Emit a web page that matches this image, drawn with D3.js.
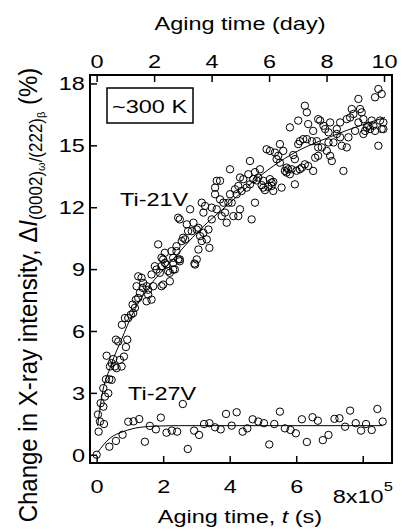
<!DOCTYPE html>
<html>
<head>
<meta charset="utf-8">
<script src="https://cdn.jsdelivr.net/npm/d3@7"></script>
<style>
  body { margin: 0; background: #fff; }
  svg text { font-family: "Liberation Sans", Arial, sans-serif; fill: #000; }
</style>
</head>
<body>
<svg id="chart" width="402" height="531"></svg>
<script>
// Ti-21V measured points, time in 1e5 s, change in %
const ti21vTime = [
  0.04, 0.06, 0.10, 0.22, 0.12, 0.20, 0.25, 0.35, 0.20, 0.28, 0.38, 0.45, 0.30, 0.40, 0.45, 0.55,
  0.50, 0.60, 0.58, 0.65, 0.70, 0.75, 0.82, 0.88, 0.92, 0.76, 0.85, 0.95, 1.03, 1.10, 1.15, 1.08,
  1.18, 1.25, 1.30, 1.20, 1.25, 1.35, 1.40, 1.50, 1.38, 1.55, 1.65, 1.50, 1.55, 1.70, 1.65, 1.80,
  1.75, 1.90, 1.95, 2.05, 2.20, 2.20, 2.35, 2.30, 2.50, 2.94, 2.00, 1.95, 2.00, 2.05, 1.95, 2.10,
  2.15, 2.30, 2.30, 2.45, 2.40, 2.25, 1.85, 2.50, 2.40, 2.56, 2.60, 2.66, 2.75, 2.71, 2.50, 2.45,
  2.81, 2.91, 2.86, 3.01, 3.06, 3.11, 3.21, 3.16, 3.06, 3.01, 2.96, 3.36, 3.39, 3.31, 3.21, 3.16,
  3.26, 3.46, 3.46, 3.61, 3.56, 3.61, 3.71, 3.56, 3.71, 3.76, 3.91, 3.81, 3.96, 4.06, 4.11, 4.26,
  4.01, 4.16, 4.26, 4.21, 4.31, 4.41, 4.36, 4.51, 4.56, 4.71, 4.61, 4.76, 4.66, 4.86, 4.01, 3.86,
  4.31, 4.61, 4.76, 4.91, 4.81, 5.01, 5.01, 5.21, 5.26, 5.31, 5.26, 5.56, 5.11, 5.21, 5.36, 5.41,
  5.46, 5.51, 5.61, 5.51, 5.71, 5.76, 5.66, 5.81, 5.86, 5.96, 5.71, 5.96, 6.11, 6.17, 6.26, 6.36,
  6.51, 6.57, 6.47, 6.06, 6.11, 6.21, 6.32, 5.81, 6.06, 6.26, 6.32, 6.36, 6.51, 6.66, 6.72, 6.62,
  6.66, 6.66, 6.77, 6.82, 6.87, 6.97, 6.97, 7.02, 6.92, 7.02, 7.07, 7.12, 7.22, 7.32, 7.22, 7.37,
  7.32, 7.42, 7.52, 7.57, 7.52, 7.62, 7.67, 7.72, 7.77, 7.87, 7.92, 7.97, 7.87, 8.02, 8.07, 8.02,
  8.17, 8.27, 8.32, 8.37, 8.47, 8.52, 8.57, 8.62, 8.62, 8.37, 8.47, 8.57, 8.12, 8.22, 5.06, 4.96,
  5.16, 5.91, 6.01, 5.31
];
const ti21vValue = [
  1.95, 1.12, 1.61, 1.49, 2.50, 2.33, 2.82, 2.98, 3.23, 3.66, 3.66, 3.63, 4.80, 4.28, 4.44, 4.28,
  4.64, 4.20, 5.58, 5.49, 4.60, 4.28, 4.76, 5.22, 5.58, 6.30, 6.63, 6.63, 6.79, 6.87, 7.12, 7.28,
  7.52, 7.60, 7.85, 8.17, 8.65, 8.58, 8.33, 8.17, 8.09, 7.76, 7.52, 7.44, 8.00, 8.17, 8.74, 8.98,
  9.14, 8.82, 9.14, 9.30, 8.82, 8.41, 8.98, 9.30, 9.38, 9.27, 8.25, 8.17, 9.47, 9.79, 9.55, 9.22,
  8.90, 8.98, 9.55, 9.47, 9.87, 9.87, 10.20, 9.47, 10.11, 10.36, 10.52, 10.44, 10.84, 11.17, 11.41, 11.49,
  11.90, 11.25, 10.84, 10.92, 11.00, 10.60, 10.76, 10.36, 9.95, 9.47, 9.22, 10.92, 10.03, 10.44, 11.74, 12.22,
  12.06, 11.98, 11.41, 11.90, 12.63, 13.28, 13.28, 12.95, 12.38, 11.57, 11.25, 12.22, 12.22, 12.22, 11.57, 11.57,
  12.63, 12.87, 13.03, 12.63, 13.44, 13.36, 12.79, 12.95, 13.60, 13.36, 13.11, 12.22, 11.41, 13.44, 13.84, 11.74,
  11.90, 14.24, 13.70, 13.84, 13.30, 13.28, 12.95, 13.36, 13.03, 12.79, 13.19, 12.95, 14.81, 14.73, 14.65, 14.33,
  14.49, 15.06, 14.73, 14.16, 13.68, 13.84, 13.76, 13.60, 13.84, 13.11, 13.92, 14.33, 13.84, 13.92, 14.08, 14.00,
  13.76, 14.40, 15.20, 15.06, 15.20, 15.30, 15.30, 15.87, 16.20, 16.92, 16.60, 16.03, 15.70, 16.27, 16.20, 15.20,
  14.90, 14.49, 14.90, 15.95, 15.79, 15.63, 15.14, 16.11, 14.73, 14.49, 14.24, 15.14, 15.79, 16.11, 15.55, 14.98,
  15.39, 13.76, 14.90, 15.39, 16.27, 16.35, 16.76, 16.52, 15.70, 17.25, 16.76, 16.60, 16.11, 16.27, 15.70, 15.55,
  15.95, 16.20, 15.95, 15.70, 14.98, 16.20, 15.79, 16.11, 15.79, 17.33, 17.73, 17.49, 15.87, 15.79, 12.83, 13.07,
  12.99, 14.53, 13.77, 13.23
];

// Ti-27V measured points
const ti27vTime = [
  0.00, 0.38, 0.58, 0.78, 0.95, 1.11, 1.28, 1.45, 1.60, 1.78, 1.93, 2.10, 2.26, 2.42, 2.59, 2.74,
  2.93, 3.08, 3.23, 3.39, 3.56, 3.73, 3.89, 4.06, 4.21, 4.39, 4.53, 4.69, 4.86, 5.03, 5.19, 5.34,
  5.51, 5.66, 5.83, 5.99, 6.17, 6.32, 6.49, 6.65, 6.80, 6.97, 7.15, 7.30, 7.47, 7.62, 7.79, 7.95,
  8.10, 8.27, 8.44, 8.60
];
const ti27vValue = [
  0.00, 0.39, 0.67, 0.97, 1.60, 1.62, 1.73, 0.63, 1.40, 1.23, 1.80, 1.07, 1.17, 1.12, 2.46, 0.28,
  1.17, 0.96, 1.49, 1.53, 1.33, 1.23, 1.98, 1.41, 2.06, 1.12, 1.28, 1.72, 1.61, 1.53, 0.50, 1.49,
  2.09, 1.28, 1.20, 1.04, 1.72, 0.62, 1.82, 1.65, 0.71, 0.96, 1.74, 1.77, 1.36, 2.14, 1.53, 1.17,
  1.49, 1.20, 2.22, 1.61
];

// fitted curves
const ti21vFitTime  = [0.03, 0.15, 0.40, 0.75, 1.10, 1.60, 2.20, 3.10, 4.00, 4.90, 5.90, 7.00, 8.00, 8.67];
const ti21vFitValue = [1.40, 2.80, 4.20, 5.60, 6.90, 8.20, 9.30, 10.90, 12.20, 13.50, 14.60, 15.40, 16.00, 16.35];
const ti27vFitTime  = [0.03, 0.20, 0.40, 0.80, 1.30, 1.80, 2.50, 8.60];
const ti27vFitValue = [0.12, 0.47, 0.80, 1.12, 1.33, 1.39, 1.41, 1.41];

const bottomTicks = [0, 2, 4, 6, 8];       // x 1e5 s
const topTicks = [0, 2, 4, 6, 8, 10];      // days
const leftTicks = [0, 3, 6, 9, 12, 15, 18];

const SX = 1.27; // glyphs in the figure are wider than tall
const margin = { left: 90, right: 10, top: 75, bottom: 68 };
const W = 402, H = 531;

const svg = d3.select("#chart");

const x = d3.scaleLinear().domain([-0.2, 8.88]).range([margin.left, W - margin.right]);
const xDay = d3.scaleLinear().domain([-0.2 * 1e5 / 86400, 8.88 * 1e5 / 86400]).range([margin.left, W - margin.right]);
const y = d3.scaleLinear().domain([-0.4, 18.41]).range([H - margin.bottom, margin.top]);

// axes, ticks pointing inward
const gBottom = svg.append("g")
    .attr("transform", `translate(0,${H - margin.bottom})`)
    .call(d3.axisBottom(x).tickValues(bottomTicks).tickSize(-7)
        .tickFormat(d => d === 8 ? "" : d));
gBottom.selectAll("text").attr("y", 30).attr("dy", 0);

const gTop = svg.append("g")
    .attr("transform", `translate(0,${margin.top})`)
    .call(d3.axisTop(xDay).tickValues(topTicks).tickSize(-7));
gTop.selectAll("text").attr("y", -7).attr("dy", 0);

const gLeft = svg.append("g")
    .attr("transform", `translate(${margin.left},0)`)
    .call(d3.axisLeft(y).tickValues(leftTicks).tickSize(-7));
gLeft.selectAll("text").attr("x", -4).attr("y", 6.5).attr("dy", 0);

[gBottom, gTop, gLeft].forEach(g => {
    g.select(".domain").remove();
    g.selectAll("line").attr("stroke", "#000").attr("stroke-width", 1.5);
    g.selectAll("text")
        .attr("fill", "#000")
        .style("font-size", "18.5px")
        .attr("transform", `scale(${SX},1)`);
});

// frame
svg.append("rect")
    .attr("x", margin.left).attr("y", margin.top)
    .attr("width", W - margin.right - margin.left)
    .attr("height", H - margin.bottom - margin.top)
    .attr("fill", "none").attr("stroke", "#000").attr("stroke-width", 2);

// "8x10^5" label
const l8 = svg.append("text")
    .attr("transform", `translate(${x(8) - 30},503) scale(${SX},1)`)
    .style("font-size", "18.5px");
l8.append("tspan").text("8x10");
l8.append("tspan").attr("dy", -12).style("font-size", "13px").text("5");

function label(txt, cx, by, anchor) {
    return svg.append("text")
        .attr("transform", `translate(${cx},${by}) scale(${SX},1)`)
        .attr("text-anchor", anchor || "start")
        .style("font-size", "18.5px")
        .text(txt);
}

label("Aging time (day)", 240, 30, "middle");
const bt = svg.append("text")
    .attr("transform", `translate(240,523) scale(${SX},1)`)
    .attr("text-anchor", "middle")
    .style("font-size", "18.5px");
bt.append("tspan").text("Aging time, ");
bt.append("tspan").style("font-style", "italic").text("t");
bt.append("tspan").text(" (s)");

// y label
const yl = svg.append("text")
    .attr("transform", "translate(37,295) rotate(-90) scale(1,1.05)")
    .attr("text-anchor", "middle")
    .style("font-size", "24px");
yl.append("tspan").text("Change in X-ray intensity, \u0394");
yl.append("tspan").style("font-style", "italic").text("I");
yl.append("tspan").attr("dy", 5).style("font-size", "17px").text("(0002)");
yl.append("tspan").attr("dy", 3).style("font-size", "11px").text("\u03c9");
yl.append("tspan").attr("dy", -3).style("font-size", "17px").text("/(222)");
yl.append("tspan").attr("dy", 3).style("font-size", "11px").text("\u03b2");
yl.append("tspan").attr("dy", -8).text(" (%)");

// temperature box
svg.append("rect")
    .attr("x", 107).attr("y", 88).attr("width", 86).attr("height", 35)
    .attr("fill", "#fff").attr("stroke", "#000").attr("stroke-width", 1.5);
label("~300 K", 112, 113);

label("Ti-21V", 120, 206);
label("Ti-27V", 128, 400);

// fit lines
const line = d3.line()
    .x(d => x(d[0]))
    .y(d => y(d[1]))
    .curve(d3.curveMonotoneX);

svg.append("path")
    .datum(d3.zip(ti21vFitTime, ti21vFitValue))
    .attr("d", line)
    .attr("fill", "none").attr("stroke", "#000").attr("stroke-width", 1);

svg.append("path")
    .datum(d3.zip(ti27vFitTime, ti27vFitValue))
    .attr("d", line)
    .attr("fill", "none").attr("stroke", "#000").attr("stroke-width", 1);

// points
function drawPoints(ts, vs) {
    svg.append("g")
        .selectAll("circle")
        .data(d3.zip(ts, vs))
        .enter()
        .append("circle")
        .attr("cx", d => x(d[0]))
        .attr("cy", d => y(d[1]))
        .attr("r", 3.7)
        .attr("fill", "none")
        .attr("stroke", "#000")
        .attr("stroke-width", 1);
}
drawPoints(ti21vTime, ti21vValue);
drawPoints(ti27vTime, ti27vValue);
</script>
</body>
</html>
